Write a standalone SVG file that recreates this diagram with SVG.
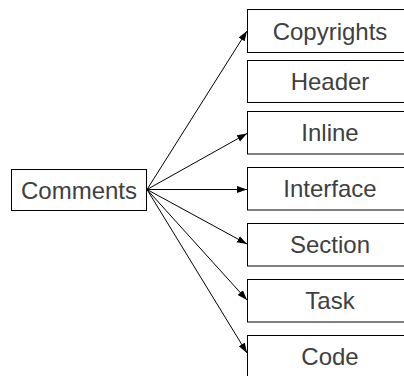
<svg xmlns="http://www.w3.org/2000/svg" width="404" height="376" viewBox="0 0 404 376">
  <defs>
    <marker id="arrow" markerUnits="userSpaceOnUse" markerWidth="11" markerHeight="8" refX="10" refY="3.5" orient="auto">
      <path d="M0,0 L10,3.5 L0,7 z" fill="#000"/>
    </marker>
  </defs>
  <style>
    .box { fill: #fff; stroke: #000; stroke-width: 1; }
    .lbl { font-family: "Liberation Sans", Arial, sans-serif; font-size: 24px; fill: #404040; text-anchor: middle; }
    .edge { stroke: #000; stroke-width: 1; fill: none; marker-end: url(#arrow); }
  </style>
  <rect width="404" height="376" fill="#fff"/>

  <g id="connectors">
    <line class="edge" x1="147" y1="189.5" x2="247" y2="31"/>
    <line class="edge" x1="147" y1="189.5" x2="247" y2="133.5"/>
    <line class="edge" x1="147" y1="189.5" x2="247" y2="189.5"/>
    <line class="edge" x1="147" y1="189.5" x2="247" y2="244"/>
    <line class="edge" x1="147" y1="189.5" x2="247" y2="300"/>
    <line class="edge" x1="147" y1="189.5" x2="247" y2="353"/>
  </g>

  <g id="comments">
    <rect class="box" x="11.5" y="169.5" width="135" height="41"/>
    <text class="lbl" x="79" y="198.5">Comments</text>
  </g>
  <g id="copyrights">
    <rect class="box" x="247.5" y="9.5" width="165" height="43"/>
    <text class="lbl" x="330" y="39.5">Copyrights</text>
  </g>
  <g id="header">
    <rect class="box" x="247.5" y="60.5" width="165" height="42"/>
    <text class="lbl" x="330" y="90">Header</text>
  </g>
  <g id="inline">
    <rect class="box" x="247.5" y="111.5" width="165" height="42.5"/>
    <text class="lbl" x="330" y="141">Inline</text>
  </g>
  <g id="interface">
    <rect class="box" x="247.5" y="167.5" width="165" height="42.5"/>
    <text class="lbl" x="330" y="197">Interface</text>
  </g>
  <g id="section">
    <rect class="box" x="247.5" y="223.5" width="165" height="42.5"/>
    <text class="lbl" x="330" y="253">Section</text>
  </g>
  <g id="task">
    <rect class="box" x="247.5" y="279.5" width="165" height="42.5"/>
    <text class="lbl" x="330" y="309">Task</text>
  </g>
  <g id="code">
    <rect class="box" x="247.5" y="335.5" width="165" height="42.5"/>
    <text class="lbl" x="330" y="365">Code</text>
  </g>
</svg>
